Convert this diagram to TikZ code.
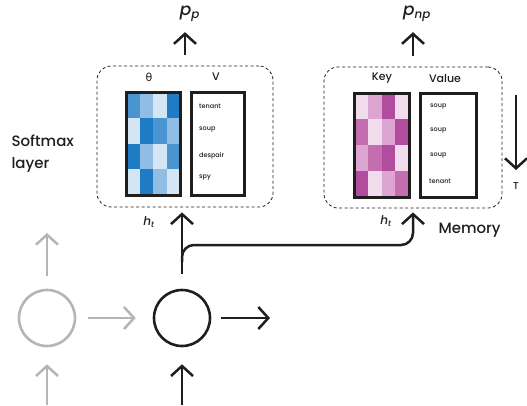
\documentclass[tikz,border=0pt]{standalone}
\usepackage{fontspec}
\setmainfont{Poppins}[UprightFont=* Medium, ItalicFont=* Medium Italic]
\newfontfamily\greekfont{DejaVu Sans}
\usetikzlibrary{arrows.meta,positioning}

\definecolor{ink}{HTML}{1E1E1E}
\definecolor{faded}{HTML}{B5B5B5}
\definecolor{bl0}{HTML}{D4E5F4}
\definecolor{bl1}{HTML}{8FBDE3}
\definecolor{bl2}{HTML}{4A94D0}
\definecolor{bl3}{HTML}{1F7BC4}
\definecolor{pk0}{HTML}{F0DCEC}
\definecolor{pk1}{HTML}{DDA6D2}
\definecolor{pk2}{HTML}{C46EB0}
\definecolor{pk3}{HTML}{B14C9E}

\tikzset{
  arr/.style={draw=ink, line width=2.5pt, -{Straight Barb[length=10pt,width=22pt]}},
  grayarr/.style={arr, draw=faded},
  layerbox/.style={draw=ink, dashed, dash pattern=on 3pt off 2.5pt, line width=0.8pt,
    rounded corners=14pt, minimum height=141pt},
  mat/.style={draw=ink, line width=3pt, minimum height=103pt},
  word/.style={font=\fontsize{6.5}{7}\selectfont, text=ink, anchor=west, inner sep=0pt},
  head/.style={font=\fontsize{11}{12}\selectfont, text=ink},
  big/.style={font=\fontsize{15}{22}\selectfont, text=ink, align=left},
  unit/.style={circle, draw=ink, line width=2.6pt, minimum size=56pt, inner sep=0pt}
}

\begin{document}
\begin{tikzpicture}[x=1pt,y=-1pt]
\useasboundingbox (0,0) rectangle (527,405);

% softmax layer
\node[layerbox, minimum width=176pt] (softbox) at (185,136.5) {};
\foreach \row [count=\r] in {{2,1,0,3},{0,3,2,1},{3,1,0,2},{0,3,1,0}}
  \foreach \c [count=\k] in \row
    \fill[fill=bl\c] ({126+(\k-1)*13.5},{92+(\r-1)*25.75}) rectangle ++(13.5,25.75);
\node[mat, minimum width=54pt] (theta) at (153,143.5) {};
\node[mat, minimum width=53pt] (vocab) at (217.5,143.5) {};
\node[head] at (149,77) {\greekfont θ};
\node[head] at (216,77) {V};
\node[word] at (199,106) {tenant};
\node[word] at (199,130) {soup};
\node[word] at (199,156) {despair};
\node[word] at (199,178) {spy};

% memory
\node[layerbox, minimum width=178pt] (membox) at (413,137.5) {};
\foreach \row [count=\r] in {{0,1,3,0},{2,0,1,3},{1,2,3,0},{3,0,1,2}}
  \foreach \c [count=\k] in \row
    \fill[fill=pk\c] ({354+(\k-1)*13.75},{93+(\r-1)*26}) rectangle ++(13.75,26);
\node[mat, minimum width=55pt, minimum height=104pt] (keys) at (381.5,145) {};
\node[mat, minimum width=56pt, minimum height=104pt] (values) at (448,145) {};
\node[head] at (382,78) {Key};
\node[head] at (445,78) {Value};
\node[word] at (430,107) {soup};
\node[word] at (430,131) {soup};
\node[word] at (430,156) {soup};
\node[word] at (429,181) {tenant};

% outputs
\node[font=\fontsize{17}{17}\selectfont, text=ink] (pp) at (190,14) {\textit{p}\textsubscript{\textit{p}}};
\node[font=\fontsize{17}{17}\selectfont, text=ink] (pnp) at (417,14) {\textit{p}\textsubscript{\textit{np}}};
\draw[arr, shorten <=11pt, shorten >=7pt] (softbox.north) -- (softbox.north |- pp.south);
\draw[arr, shorten <=11pt, shorten >=7pt] (membox.north) -- (membox.north |- pnp.south);

\node[big, anchor=west] (softlbl) at (8,154) {Softmax\\layer};
\node[big, anchor=west] (memlbl) at (435,230) {Memory};

% time axis
\node[text=ink, font=\fontsize{10}{10}\selectfont] (tlbl) at (516,186) {T};
\coordinate (tstart) at (516,95);
\draw[arr, shorten >=9pt] (tstart) -- (tlbl.north);

% recurrent cells
\node[unit] (cell) at (182,318) {};
\node[unit, draw=faded] (prev) at (47,318) {};
\coordinate (out) at (270,318);
\coordinate (prevup) at (47,233);
\coordinate (inA) at (47,405);
\coordinate (inB) at (182,405);
\coordinate (split) at (182,262);

\draw[grayarr, shorten <=12pt, shorten >=17pt] (prev) -- (cell);
\draw[grayarr, shorten <=13pt] (prev.north) -- (prevup);
\draw[grayarr, shorten >=17pt] (inA) -- (prev.south);
\draw[arr, shorten <=10pt] (cell.east) -- (out);
\draw[arr, shorten >=17pt] (inB) -- (cell.south);
\draw[arr, shorten <=15pt, shorten >=5pt] (cell.north) -- (cell.north |- softbox.south);
\draw[arr, rounded corners=12pt, shorten >=4pt] (split) |- (413,245) -- (membox.south);

\node[font=\fontsize{12}{12}\selectfont, text=ink] at (149,222) {\textit{h}\textsubscript{\textit{t}}};
\node[font=\fontsize{12}{12}\selectfont, text=ink] at (386,221) {\textit{h}\textsubscript{\textit{t}}};
\end{tikzpicture}
\end{document}
